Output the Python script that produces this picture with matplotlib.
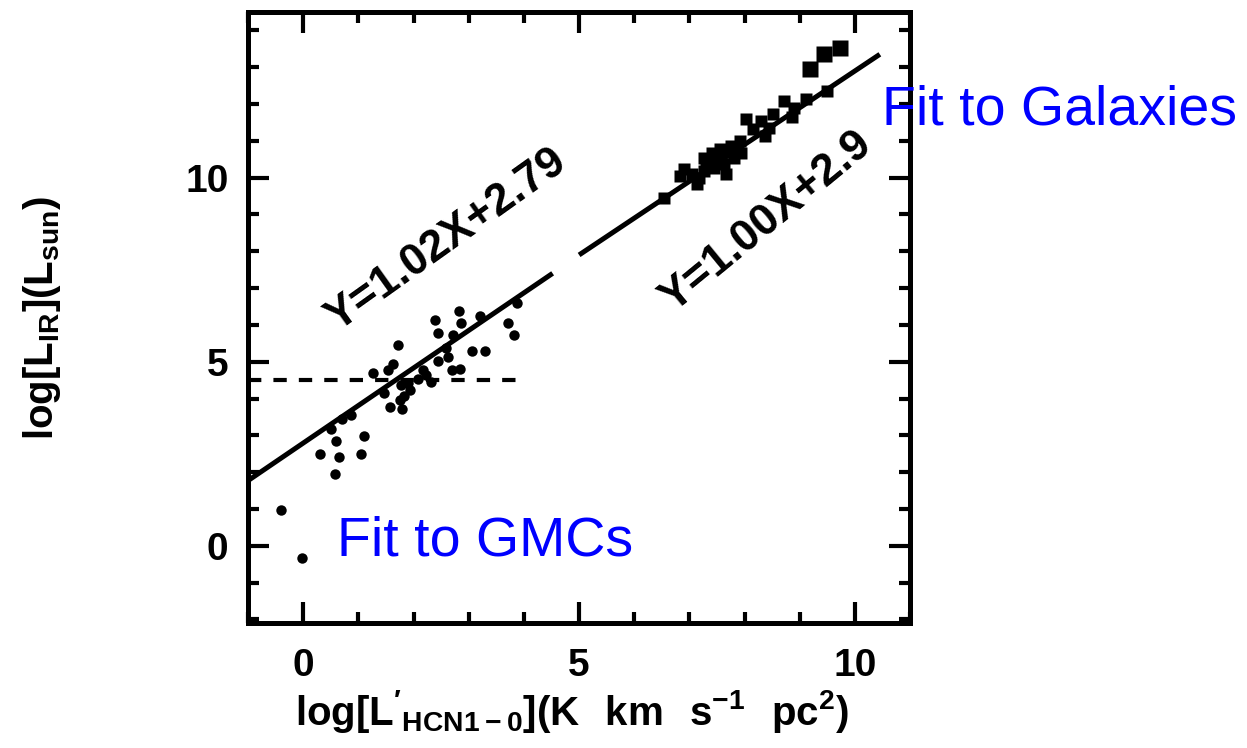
import matplotlib
matplotlib.use('Agg')
import matplotlib.pyplot as plt
from matplotlib.ticker import MultipleLocator

plt.rcParams['font.family'] = 'Liberation Sans'
plt.rcParams['mathtext.fontset'] = 'custom'
plt.rcParams['mathtext.rm'] = 'Liberation Sans'
plt.rcParams['mathtext.bf'] = 'Liberation Sans:bold'

# dense cores in the Galaxy (GMCs): log L'_HCN, log L_IR
gmc_x = [3.88, 3.71, 3.82, 2.82, 3.21, 2.38, 2.86, 2.44, 2.71, 2.59, 2.62,
         3.05, 3.29, 2.44, 2.69, 2.84, 1.71, 1.62, 1.53, 1.26, 2.17, 2.23,
         2.32, 2.08, 1.77, 1.93, 1.47, 1.82, 1.75, 1.58, 1.79, 0.87, 0.70,
         0.50, 0.60, 1.10, 0.30, 0.64, 1.04, 0.57, 1.90, -0.40, -0.02]
gmc_y = [6.59, 6.05, 5.73, 6.39, 6.24, 6.14, 6.05, 5.78, 5.73, 5.37, 5.14,
         5.30, 5.30, 5.01, 4.78, 4.81, 5.46, 4.95, 4.78, 4.69, 4.78, 4.65,
         4.44, 4.53, 4.38, 4.24, 4.15, 4.08, 3.97, 3.78, 3.72, 3.54, 3.45,
         3.16, 2.85, 2.98, 2.49, 2.42, 2.49, 1.95, 4.42, 0.98, -0.33]

# galaxies
gal_x = [9.12, 8.72, 8.90, 8.86, 8.52, 8.03, 8.29, 8.45, 8.36, 7.92, 7.94,
         7.55, 7.40, 7.26, 7.62, 7.44, 7.26, 7.17, 6.90, 6.82, 7.13, 7.80,
         7.67, 6.53, 7.35, 7.76, 8.16, 9.49, 7.30, 7.50, 7.05, 7.70]
gal_y = [12.14, 12.08, 11.89, 11.65, 11.73, 11.59, 11.54, 11.35, 11.14,
         11.00, 10.68, 10.78, 10.68, 10.54, 10.38, 10.27, 10.19, 10.00,
         10.24, 10.05, 9.84, 10.54, 10.11, 9.46, 10.46, 10.86, 11.32, 12.35,
         10.35, 10.55, 10.10, 10.70]
# the three most luminous galaxies
ulirg_x = [9.73, 9.44, 9.19]
ulirg_y = [13.51, 13.35, 12.95]

# least-squares fits: slope, intercept, x range
gmc_fit = (1.02, 2.79)
gmc_range = (-1.0, 4.52)
gal_fit = (1.00, 2.9)
gal_range = (5.0, 10.45)
lir_cut = 4.5

fig = plt.figure(figsize=(12.47, 7.48), dpi=100)
ax = fig.add_axes([0.1989, 0.167, 0.531, 0.817])

ax.plot(gmc_x, gmc_y, 'o', ms=7.5, color='black', mec='none')
ax.plot(gal_x, gal_y, 's', ms=8, color='black', mec='none')
ax.plot(ulirg_x, ulirg_y, 's', ms=11, color='black', mec='none')

for (slope, icept), (x0, x1) in [(gmc_fit, gmc_range), (gal_fit, gal_range)]:
    ax.plot([x0, x1], [slope * x0 + icept, slope * x1 + icept],
            color='black', lw=3.6, solid_capstyle='butt')

ax.plot([-1, 4.0], [lir_cut, lir_cut], color='black', lw=3,
        dashes=(3.2, 2.9))

ax.text(2.6, 8.3, 'Y=1.02X+2.79', rotation=35.5, rotation_mode='anchor',
        ha='center', va='center', fontsize=32, fontweight='bold')
ax.text(8.4, 8.8, 'Y=1.00X+2.9', rotation=39.4, rotation_mode='anchor',
        ha='center', va='center', fontsize=32, fontweight='bold')

ax.set_xlim(-1, 11)
ax.set_ylim(-2.1, 14.5)
ax.xaxis.set_major_locator(MultipleLocator(5))
ax.xaxis.set_minor_locator(MultipleLocator(1))
ax.yaxis.set_major_locator(MultipleLocator(5))
ax.yaxis.set_minor_locator(MultipleLocator(1))
ax.tick_params(which='both', direction='in', top=True, right=True, width=3)
ax.tick_params(which='major', length=15, labelsize=28)
ax.tick_params(axis='x', which='major', pad=18)
ax.tick_params(axis='y', which='major', pad=14)
ax.tick_params(which='minor', length=8)
for lab in ax.get_xticklabels() + ax.get_yticklabels():
    lab.set_fontweight('bold')
for sp in ax.spines.values():
    sp.set_linewidth(3.6)

ax.set_xlabel(r"$\mathbf{log[L'_{HCN1-0}](K\ \ km\ \ s^{-1}\ \ pc^{2})}$",
              fontsize=29)
ax.xaxis.set_label_coords(0.489, -0.145)
ax.xaxis.label.set_va('center')
ax.set_ylabel(r'$\mathbf{log[L_{IR}](L_{sun})}$', fontsize=29)
ax.yaxis.set_label_coords(-0.311, 0.5)
ax.yaxis.label.set_va('center')

fig.text(0.7073, 0.8329, 'Fit to Galaxies', color='#0000ff', fontsize=40)
fig.text(0.2702, 0.258, 'Fit to GMCs', color='#0000ff', fontsize=40)

fig.savefig('out.png', dpi=100)
plt.close(fig)
